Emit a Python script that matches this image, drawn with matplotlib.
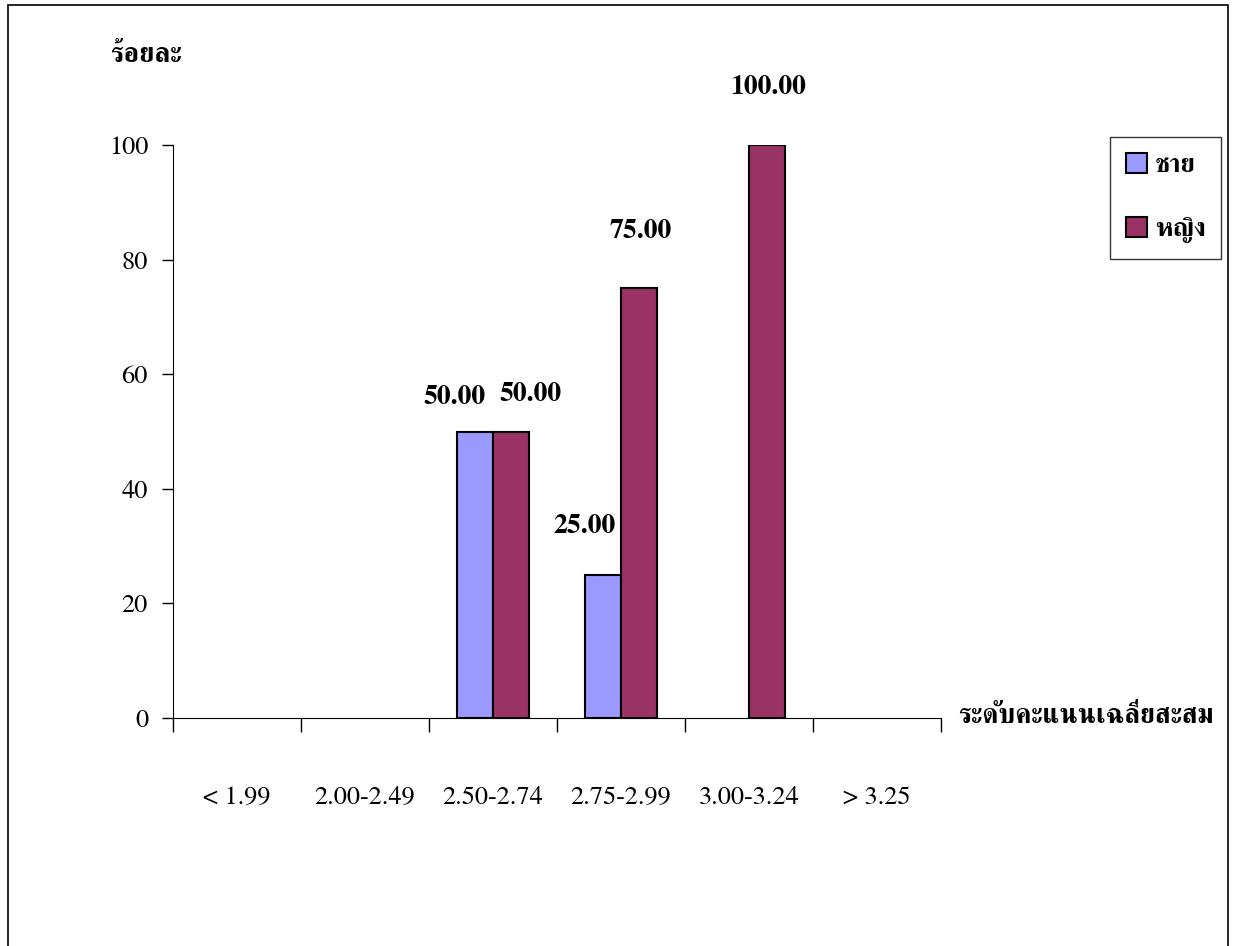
import matplotlib
matplotlib.use('Agg')
import matplotlib.pyplot as plt
import numpy as np
from matplotlib.patches import Rectangle, Patch

# data
categories = ['< 1.99', '2.00-2.49', '2.50-2.74', '2.75-2.99', '3.00-3.24', '> 3.25']
male = [0, 0, 50, 25, 0, 0]      # ชาย
female = [0, 0, 50, 75, 100, 0]  # หญิง
series_names = ['ชาย', 'หญิง']
y_ticks = [0, 20, 40, 60, 80, 100]
colors = ['#9999FF', '#993366']

# label nudges in pixels (dx, dy) so they sit like the original
male_off = {2: (-20, 22), 3: (-18, 36)}
female_off = {2: (19, 25), 3: (1, 44), 4: (1, 45)}

plt.rcParams['font.family'] = ['FreeSerif', 'Liberation Serif', 'DejaVu Sans']

fig = plt.figure(figsize=(12.34, 9.46), dpi=100)
ax = fig.add_axes([173/1234, 1 - 718/946, 768/1234, 573/946])

x = np.arange(len(categories))
w = 0.285
b1 = ax.bar(x - w/2, male, w, color=colors[0], edgecolor='black', linewidth=1.5)
b2 = ax.bar(x + w/2, female, w, color=colors[1], edgecolor='black', linewidth=1.5)
# zero bars are not drawn in the original
for bars, vals in ((b1, male), (b2, female)):
    for r, v in zip(bars, vals):
        if v == 0:
            r.set_visible(False)

for i, v in enumerate(male):
    if v > 0:
        dx, dy = male_off.get(i, (0, 30))
        ax.annotate('%.2f' % v, (x[i] - w/2, v), xytext=(dx * 0.72, dy * 0.72),
                    textcoords='offset points', ha='center', va='bottom',
                    fontsize=20, fontweight='bold', annotation_clip=False)
for i, v in enumerate(female):
    if v > 0:
        dx, dy = female_off.get(i, (0, 30))
        ax.annotate('%.2f' % v, (x[i] + w/2, v), xytext=(dx * 0.72, dy * 0.72),
                    textcoords='offset points', ha='center', va='bottom',
                    fontsize=20, fontweight='bold', annotation_clip=False)

ax.set_xlim(-0.5, len(categories) - 0.5)
ax.set_ylim(0, 100)
ax.set_yticks(y_ticks)
ax.set_yticklabels([str(t) for t in y_ticks], fontsize=19)
ax.tick_params(axis='y', length=8, width=1, pad=10, direction='out')

ax.set_xticks(np.arange(len(categories) + 1) - 0.5)
ax.set_xticklabels([])
ax.tick_params(axis='x', length=10, width=1, direction='out')
for i, c in enumerate(categories):
    ax.text(x[i], -14, c, ha='center', va='center', fontsize=19)

ax.spines['top'].set_visible(False)
ax.spines['right'].set_visible(False)

fig.text(110/1234, 1 - 55/946, 'ร้อยละ', fontsize=20, fontweight='bold', va='center', ha='left')
fig.text(958/1234, 1 - 716/946, 'ระดับคะแนนเฉลี่ยสะสม', fontsize=19.5, fontweight='bold', va='center', ha='left')

handles = [Patch(facecolor=colors[k], edgecolor='black', linewidth=1.5) for k in range(2)]
leg = fig.legend(handles, series_names, loc='upper left', bbox_to_anchor=(1110/1234, 1 - 137/946),
                 borderaxespad=0, frameon=True, fancybox=False, edgecolor='black',
                 prop={'weight': 'bold', 'size': 19},
                 handlelength=0.8, handleheight=0.8, handletextpad=0.3, labelspacing=1.5,
                 borderpad=0.6)
leg.get_frame().set_linewidth(1)

# outer border of the chart area
fig.patches.append(Rectangle((8/1234, -0.05), 1220/1234, 1.05 - 5/946, transform=fig.transFigure,
                             fill=False, edgecolor='black', linewidth=1.2))

fig.savefig('out.png')
